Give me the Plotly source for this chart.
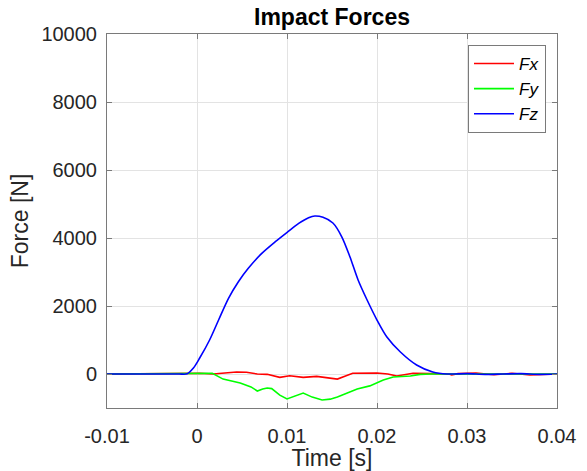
import plotly.graph_objects as go

# ---- data ----
t_fz = [-0.01, -0.005, -0.002, -0.0011, -0.0004, 0.0003, 0.0014, 0.0024, 0.0035, 0.0046,
        0.0057, 0.0072, 0.0087, 0.0101, 0.0113, 0.0124, 0.0131, 0.0140, 0.0151, 0.0161,
        0.0170, 0.0179, 0.0189, 0.0200, 0.0211, 0.0226, 0.0244, 0.0262, 0.0278,
        0.030, 0.032, 0.034, 0.036, 0.038, 0.04]
fz = [0, 0, 0, 5, 176, 470, 1000, 1588, 2225, 2715,
      3108, 3549, 3892, 4186, 4431, 4598, 4647, 4608, 4441, 4029,
      3441, 2765, 2176, 1588, 1088, 647, 265, 60, 0,
      10, -10, 0, 10, -10, 0]

t_fy = [-0.01, 0.0, 0.0017, 0.0029, 0.0048, 0.0060, 0.0067, 0.0073, 0.0078, 0.0083, 0.0092,
        0.0100, 0.0110, 0.0118, 0.0128, 0.0139, 0.0148, 0.0156, 0.0167, 0.0178, 0.0192,
        0.0207, 0.0218, 0.0237, 0.0248, 0.026, 0.04]
fy = [0, 20, 20, -150, -265, -380, -500, -440, -410, -430, -620,
      -735, -630, -560, -680, -765, -740, -675, -560, -440, -350,
      -176, -90, -60, -10, 0, 0]

t_fx = [-0.01, 0.0003, 0.0018, 0.003, 0.0044, 0.0055, 0.0067, 0.0078, 0.0092, 0.0103, 0.0118,
        0.0133, 0.0145, 0.0156, 0.0165, 0.0173, 0.0200, 0.0212, 0.0222, 0.0232, 0.024,
        0.026, 0.028, 0.0283, 0.029, 0.031, 0.033, 0.035, 0.037, 0.04]
fx = [0, 20, 0, 30, 60, 50, 0, -10, -100, -50, -100,
      -70, -110, -150, -60, 20, 30, 0, -60, -20, 20,
      10, 0, -30, 10, 30, -20, 20, -30, 0]

x_ticks = [-0.01, 0, 0.01, 0.02, 0.03, 0.04]
x_labels = ["-0.01", "0", "0.01", "0.02", "0.03", "0.04"]
y_ticks = [0, 2000, 4000, 6000, 8000, 10000]
y_labels = ["0", "2000", "4000", "6000", "8000", "10000"]

FONT = "Liberation Sans, Arial, Helvetica, sans-serif"
TXT = "#262626"

W, H = 587, 471

fig = go.Figure()
fig.add_trace(go.Scatter(x=t_fx, y=fx, mode="lines", name="<i>Fx</i>",
                         line=dict(color="#ff0000", width=1.6)))
fig.add_trace(go.Scatter(x=t_fy, y=fy, mode="lines", name="<i>Fy</i>",
                         line=dict(color="#00ff00", width=1.6)))
fig.add_trace(go.Scatter(x=t_fz, y=fz, mode="lines", name="<i>Fz</i>",
                         line=dict(color="#0000ff", width=1.6, shape="spline", smoothing=0.8)))

axis_common = dict(
    showgrid=True, gridcolor="#e3e3e3", gridwidth=1,
    showline=True, linecolor="#7a7a7a", linewidth=1, mirror="ticks",
    ticks="inside", ticklen=5, tickcolor="#7a7a7a",
    zeroline=False, automargin=False,
    tickfont=dict(family=FONT, size=20, color=TXT),
)

fig.update_layout(
    width=W, height=H,
    margin=dict(l=107, r=30, t=34, b=63, autoexpand=False),
    paper_bgcolor="white", plot_bgcolor="white",
    font=dict(family=FONT, color=TXT),
    title=dict(text="<b>Impact Forces</b>", x=332 / W, xanchor="center",
               y=1 - 17 / H, yanchor="middle", yref="container",
               font=dict(family=FONT, size=23, color="#000000")),
    xaxis=dict(range=[-0.01, 0.04], tickvals=x_ticks, ticktext=x_labels,
               ticklabelstandoff=10,
               title=dict(text="Time [s]", font=dict(family=FONT, size=23, color=TXT), standoff=6),
               **axis_common),
    yaxis=dict(range=[-1000, 10000], tickvals=y_ticks, ticktext=y_labels,
               ticklabelstandoff=5,
               title=dict(text="Force [N]", font=dict(family=FONT, size=23, color=TXT), standoff=6),
               **axis_common),
    legend=dict(x=(546 - 107) / 450, xanchor="right", y=(408 - 45) / 374, yanchor="top",
                bgcolor="white", bordercolor="#7a7a7a", borderwidth=1,
                font=dict(family=FONT, size=17, color="#000000"),
                itemwidth=40, tracegroupgap=0),
    showlegend=True,
)

# remove the default 8px page margin so the figure sits at the window's top-left corner
fig.write_html("out.html", config={"displayModeBar": False},
               post_script="document.body.style.margin='0px';")
